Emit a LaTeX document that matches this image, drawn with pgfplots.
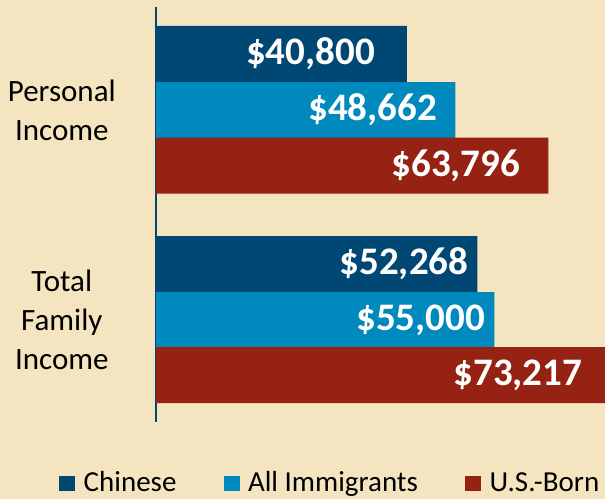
\documentclass[border=0pt]{standalone}
\usepackage{pgfplots}
\pgfplotsset{compat=1.18}
\usepackage{pgfplotstable}
\usepackage{fontspec}
\setmainfont{Carlito}
\definecolor{bg}{RGB}{245,228,192}
\definecolor{cdark}{RGB}{0,72,115}
\definecolor{clight}{RGB}{0,137,189}
\definecolor{cred}{RGB}{149,34,18}

\pgfplotstableread{
y x lab off
47 40800 40,800 -32
257 52268 52,268 -9
}\chinese
\pgfplotstableread{
y x lab off
103 48662 48,662 -18
313 55000 55,000 -9
}\allimm
\pgfplotstableread{
y x lab off
158.5 63796 63,796 -28
368 73217 73,217 -24
}\usborn

\begin{document}
\begin{tikzpicture}
\fill[bg] (0,0) rectangle (605bp,499bp);
\begin{axis}[
  at={(156bp,77bp)}, anchor=south west,
  scale only axis, width=449bp, height=415bp,
  xmin=0, xmax=73000, ymin=0, ymax=415, y dir=reverse,
  clip=false,
  axis x line=none, axis y line*=left,
  y axis line style={draw=cdark, line width=2bp},
  xtick=\empty, ytick={103,313},
  yticklabels={{Personal\\Income},{Total\\Family\\Income}},
  major tick length=0pt,
  yticklabel style={font=\fontsize{31bp}{39bp}\selectfont, align=center, text width=124bp, inner sep=0pt, xshift=-32bp},
  every axis plot/.append style={xbar, bar width=56, bar shift=0pt, draw=none},
  nodes near coords={\$\pgfplotspointmeta},
  point meta=explicit symbolic,
  visualization depends on={\thisrow{off} \as \myoff},
  every node near coord/.append style={anchor=east, text=white, font=\bfseries\fontsize{39bp}{44bp}\selectfont, inner sep=0pt, xshift=\myoff bp},
  legend columns=3,
  legend image code/.code={\fill[#1] (0bp,-9bp) rectangle (16bp,6bp);},
  legend style={at={(-0.216,-0.1455)}, anchor=west, draw=none, fill=none, inner sep=0pt,
    font=\fontsize{29bp}{35bp}\selectfont, nodes={inner sep=0pt},
    /tikz/every odd column/.append style={column sep=8.5bp},
    /tikz/every even column/.append style={column sep=47bp}},
]
\addplot[fill=cdark] table[x=x, y=y, meta=lab] {\chinese};
\addlegendentry{Chinese}
\addplot[fill=clight] table[x=x, y=y, meta=lab] {\allimm};
\addlegendentry{All Immigrants}
\addplot[fill=cred] table[x=x, y=y, meta=lab] {\usborn};
\addlegendentry{U.S.-Born}
\end{axis}
\pgfresetboundingbox
\useasboundingbox (0,0) rectangle (605bp,499bp);
\end{tikzpicture}
\end{document}
